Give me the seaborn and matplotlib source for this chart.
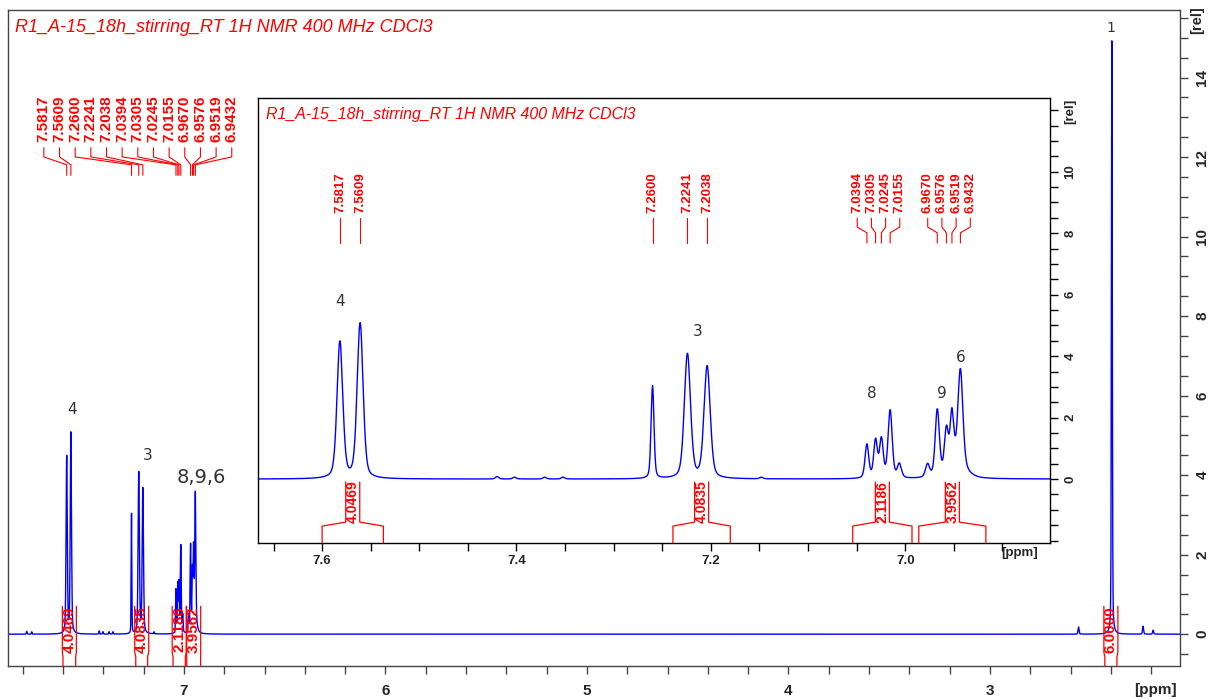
import numpy as np
import pandas as pd
import matplotlib
matplotlib.use("Agg")
import matplotlib.pyplot as plt
import matplotlib.transforms as mtransforms
from matplotlib.ticker import MultipleLocator
import seaborn as sns

sns.set_style("ticks")
plt.rcParams["font.family"] = ["Liberation Sans", "DejaVu Sans"]

RED = "#ff0000"
BLUE = "#0000ff"

# peak list: shift (ppm), height (rel), line width (ppm)
peak_ppm = [7.5817, 7.5609, 7.2600, 7.2241, 7.2038,
            7.0394, 7.0305, 7.0245, 7.0155, 7.0060,
            6.9770, 6.9670, 6.9576, 6.9519, 6.9432, 6.9480,
            2.3950,
            7.7800, 7.7550, 7.4200, 7.4020, 7.3710, 7.3520, 7.1480,
            2.5600, 2.2400, 2.1900]
peak_height = [4.45, 5.05, 3.02, 4.05, 3.65,
               1.10, 1.22, 1.25, 2.20, 0.45,
               0.42, 2.15, 1.30, 1.70, 3.15, 0.45,
               15.00,
               0.07, 0.06, 0.08, 0.06, 0.06, 0.06, 0.05,
               0.18, 0.20, 0.10]
peak_fwhm = [0.0070, 0.0072, 0.0035, 0.0075, 0.0075,
             0.0045, 0.0045, 0.0045, 0.0050, 0.0050,
             0.0050, 0.0050, 0.0045, 0.0045, 0.0060, 0.0220,
             0.0050,
             0.0040, 0.0040, 0.0040, 0.0040, 0.0040, 0.0040, 0.0040,
             0.0060, 0.0060, 0.0060]

# picked peaks (labels) and the inset groups they fan out in
picked_shifts = [7.5817, 7.5609, 7.2600, 7.2241, 7.2038, 7.0394, 7.0305,
                 7.0245, 7.0155, 6.9670, 6.9576, 6.9519, 6.9432]
picked_group = [0, 1, 2, 3, 4, 5, 5, 5, 5, 6, 6, 6, 6]

# integrals
integral_lo = [7.537, 7.180, 6.993, 6.917, 2.370]
integral_hi = [7.600, 7.239, 7.054, 6.986, 2.430]
integral_value = [4.0469, 4.0835, 2.1186, 3.9562, 6.0000]

# assignment numbers
main_assign_text = ["4", "3", "8,9,6", "1"]
main_assign_x = [7.556, 7.179, 6.916, 2.400]
main_assign_y = [5.64, 4.50, 3.95, 15.25]
main_assign_size = [11, 11, 14, 10]
inset_assign_text = ["4", "3", "8", "9", "6"]
inset_assign_x = [7.582, 7.214, 7.034, 6.962, 6.943]
inset_assign_y = [5.77, 4.80, 2.80, 2.80, 3.94]

title = "R1_A-15_18h_stirring_RT 1H NMR 400 MHz CDCl3"

# spectrum from the peak list (pseudo-Voigt line shape)
ppm = np.arange(2.05, 7.88, 0.0004)
eta = 0.35
intensity = np.zeros_like(ppm)
for c, h, w in zip(peak_ppm, peak_height, peak_fwhm):
    d = (ppm - c) / w
    intensity += h * ((1 - eta) * np.exp(-4 * np.log(2) * d ** 2) + eta / (1 + 4 * d ** 2))
spec = pd.DataFrame({"ppm": ppm, "rel": intensity})

W, H = 1210, 700
fig = plt.figure(figsize=(W / 100, H / 100), dpi=100)


def px_per_ppm(ax):
    lo, hi = ax.get_xlim()
    return ax.get_position().width * W / abs(hi - lo)


def picked_labels(ax, shifts, label_x, ys, fs):
    trans = mtransforms.blended_transform_factory(ax.transData, ax.transAxes)
    y_text, y1, y2, y3, y4 = ys
    for p, lx in zip(shifts, label_x):
        ax.plot([lx, lx, p, p], [y1, y2, y3, y4], transform=trans, color=RED,
                lw=0.8, clip_on=False, zorder=5)
        ax.text(lx, y_text, f"{p:.4f}", rotation=90, ha="center", va="bottom",
                transform=trans, color=RED, fontsize=fs, fontweight="bold")


def integral_marks(ax, los, his, vals, ys, fs, half_px=7):
    trans = mtransforms.blended_transform_factory(ax.transData, ax.transAxes)
    y_sh0, y_sh1, y_top = ys
    hw = half_px / px_per_ppm(ax)
    for lo, hi, v in zip(los, his, vals):
        c = (lo + hi) / 2
        for edge, inner in ((hi, c + hw), (lo, c - hw)):
            ax.plot([edge, edge, inner, inner], [0, y_sh0, y_sh1, y_top],
                    transform=trans, color=RED, lw=0.9, clip_on=False, zorder=5)
        ax.text(c, (y_sh1 + y_top) / 2, f"{v:.4f}", rotation=90, ha="center",
                va="center", transform=trans, color=RED, fontsize=fs,
                fontweight="bold", zorder=6)


def style_axis(ax, spine_color, lab_size, xpad, ypad, tlen):
    ax.yaxis.tick_right()
    for s in ax.spines.values():
        s.set_color(spine_color)
        s.set_linewidth(1.0)
    ax.tick_params(axis="both", which="both", direction="out", color=spine_color,
                   length=tlen, width=1.0, labelsize=lab_size)
    ax.tick_params(axis="x", which="both", pad=xpad)
    ax.tick_params(axis="y", which="both", pad=ypad, labelrotation=90)
    for lab in ax.get_xticklabels() + ax.get_yticklabels():
        lab.set_fontweight("bold")
    for lab in ax.get_yticklabels():
        lab.set_va("center")
    ax.set_xlabel("")
    ax.set_ylabel("")


# ---------------- main spectrum ----------------
ax = fig.add_axes([8 / W, 34 / H, 1172 / W, 656 / H])
sns.lineplot(data=spec, x="ppm", y="rel", ax=ax, color=BLUE, lw=1.0,
             estimator=None, sort=False)
ax.set_xlim(7.873, 2.057)
ax.set_ylim(-0.8, 15.7)
ax.xaxis.set_major_locator(MultipleLocator(1))
ax.xaxis.set_minor_locator(MultipleLocator(0.2))
ax.yaxis.set_major_locator(MultipleLocator(2))
ax.yaxis.set_minor_locator(MultipleLocator(0.5))
ax.set_xticks(ax.get_xticks())
ax.set_xticklabels([f"{t:g}" for t in ax.get_xticks()])
ax.set_xlim(7.873, 2.057)
ax.set_yticks([0, 2, 4, 6, 8, 10, 12, 14])
style_axis(ax, "#444444", 11, 7, 5, 6)

ax.text(0.006, 0.9726, title, transform=ax.transAxes, color=RED,
        fontsize=13, fontstyle="italic", va="center", ha="left")
ax.text(1.0145, 0.985, "[rel]", transform=ax.transAxes, rotation=90,
        fontsize=10.5, fontweight="bold", ha="center", va="center")
ax.text(0.979, -0.037, "[ppm]", transform=ax.transAxes, fontsize=11,
        fontweight="bold", ha="center", va="center")

main_label_x = [7.695 - 0.0777 * i for i in range(len(picked_shifts))]
picked_labels(ax, picked_shifts, main_label_x,
              (0.799, 0.790, 0.776, 0.764, 0.748), 11)
integral_marks(ax, integral_lo, integral_hi, integral_value,
               (0.014, 0.021, 0.091), 11, half_px=7)
for t, x, y, s in zip(main_assign_text, main_assign_x, main_assign_y, main_assign_size):
    ax.text(x, y, t, fontsize=s, color="#333333", ha="center", va="center",
            family=["DejaVu Sans"])

# ---------------- inset ----------------
axi = fig.add_axes([258 / W, (H - 543) / H, 792 / W, 445 / H])
axi.set_facecolor("white")
sns.lineplot(data=spec[(spec.ppm > 6.84) & (spec.ppm < 7.67)], x="ppm", y="rel",
             ax=axi, color=BLUE, lw=1.0, estimator=None, sort=False)
axi.set_xlim(7.666, 6.851)
axi.set_ylim(-2.08, 12.4)
axi.set_xticks([7.6, 7.4, 7.2, 7.0])
axi.set_xticklabels(["7.6", "7.4", "7.2", "7.0"])
axi.xaxis.set_minor_locator(MultipleLocator(0.05))
axi.set_yticks([0, 2, 4, 6, 8, 10])
axi.yaxis.set_minor_locator(MultipleLocator(0.5))
axi.set_xlim(7.666, 6.851)
style_axis(axi, "black", 9.5, 3, 5, 5.5)

axi.text(0.01, 0.962, title, transform=axi.transAxes, color=RED,
         fontsize=11.4, fontstyle="italic", va="center", ha="left")
axi.text(1.025, 0.969, "[rel]", transform=axi.transAxes, rotation=90,
         fontsize=9.5, fontweight="bold", ha="center", va="center")
axi.text(0.962, -0.022, "[ppm]", transform=axi.transAxes, fontsize=9.5,
         fontweight="bold", ha="center", va="center")

spacing = 0.0146
inset_label_x = []
for i, p in enumerate(picked_shifts):
    members = [s for s, g in zip(picked_shifts, picked_group) if g == picked_group[i]]
    k = members.index(p)
    centre = np.mean(members)
    inset_label_x.append(centre + ((len(members) - 1) / 2 - k) * spacing)
picked_labels(axi, picked_shifts, inset_label_x,
              (0.742, 0.730, 0.710, 0.697, 0.674), 9.5)
integral_marks(axi, integral_lo[:4], integral_hi[:4], integral_value[:4],
               (0.038, 0.047, 0.137), 10, half_px=7)
for t, x, y in zip(inset_assign_text, inset_assign_x, inset_assign_y):
    axi.text(x, y, t, fontsize=11, color="#333333", ha="center", va="center",
             family=["DejaVu Sans"])

fig.savefig("out.png", dpi=100)
